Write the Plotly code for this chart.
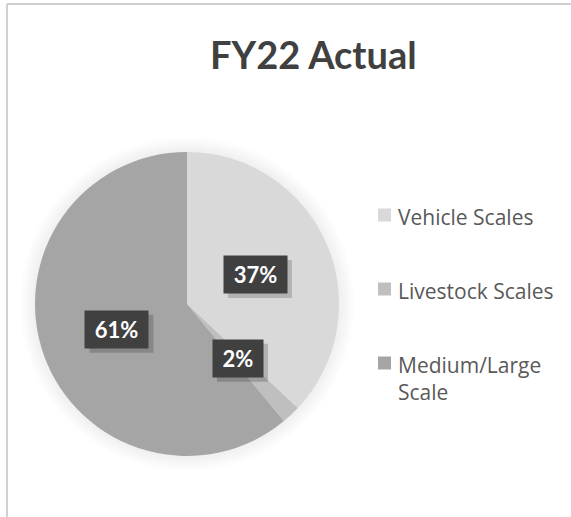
import math
import plotly.graph_objects as go

# Chart data
title_text = "FY22 Actual"
categories = ["Vehicle Scales", "Livestock Scales", "Medium/Large Scale"]
shares = [37, 2, 61]
slice_colors = ["#d9d9d9", "#bfbfbf", "#a5a5a5"]

W, H = 571, 517
CX, CY, R = 187, 304, 152          # pie centre and radius in pixels
LABEL_FRAC = 0.49                   # data labels sit at this fraction of the radius


def px(x):
    return x / W


def py(y):
    return 1 - y / H


fig = go.Figure()

fig.add_trace(go.Pie(
    labels=categories,
    values=shares,
    marker=dict(colors=slice_colors, line=dict(width=0)),
    sort=False,
    direction="clockwise",
    rotation=0,
    textinfo="none",
    hoverinfo="label+percent",
    showlegend=False,
    domain=dict(x=[px(CX - R), px(CX + R)], y=[py(CY + R), py(CY - R)]),
))

shapes = []
annotations = []

# soft glow around the pie, built from many faint stacked discs
for grow in range(16, 0, -1):
    shapes.append(dict(
        type="circle", xref="paper", yref="paper", layer="below",
        x0=px(CX - R - grow), x1=px(CX + R + grow),
        y0=py(CY + R + grow), y1=py(CY - R - grow),
        fillcolor="rgba(0,0,0,0.005)", line=dict(width=0),
    ))

# chart frame (top and left edges)
shapes.append(dict(type="line", xref="paper", yref="paper",
                   x0=px(7), x1=1.0, y0=py(4), y1=py(4),
                   line=dict(color="#d0d0d0", width=2)))
shapes.append(dict(type="line", xref="paper", yref="paper",
                   x0=px(7), x1=px(7), y0=py(4), y1=0.0,
                   line=dict(color="#d0d0d0", width=2)))

# data labels in dark boxes at each slice's mid-angle
total = sum(shares)
cum = 0
for val in shares:
    mid = (cum + val / 2) / total * 2 * math.pi
    cum += val
    lx = CX + LABEL_FRAC * R * math.sin(mid)
    ly = CY - LABEL_FRAC * R * math.cos(mid)
    text = f"{round(val / total * 100)}%"
    bw = 63 if len(text) > 2 else 50
    bh = 37
    # drop shadow
    shapes.append(dict(
        type="rect", xref="paper", yref="paper", layer="above",
        x0=px(lx - bw / 2 + 4), x1=px(lx + bw / 2 + 5),
        y0=py(ly + bh / 2 + 5), y1=py(ly - bh / 2 + 4),
        fillcolor="rgba(0,0,0,0.18)", line=dict(width=0),
    ))
    annotations.append(dict(
        x=px(lx), y=py(ly), xref="paper", yref="paper",
        text=f"<b>{text}</b>", showarrow=False,
        font=dict(family="Lato", size=22, color="white"),
        bgcolor="#404040", width=bw - 6, height=bh - 6, borderpad=3,
        xanchor="center", yanchor="middle",
    ))

# title
annotations.append(dict(
    x=px(313), y=py(54), xref="paper", yref="paper",
    text=f"<b>{title_text}</b>", showarrow=False,
    font=dict(family="Lato", size=38, color="#404040"),
    xanchor="center", yanchor="middle",
))

# legend
legend_rows = [215, 289, 363]
for name, color, ry in zip(categories, slice_colors, legend_rows):
    shapes.append(dict(
        type="rect", xref="paper", yref="paper",
        x0=px(378), x1=px(391), y0=py(ry + 6.5), y1=py(ry - 6.5),
        fillcolor=color, line=dict(width=0),
    ))
    words = name.split(" ")
    label = name if len(name) <= 16 else " ".join(words[:-1]) + "<br>" + words[-1]
    annotations.append(dict(
        x=px(396), y=py(ry - 14), xref="paper", yref="paper",
        text=label, showarrow=False, align="left",
        font=dict(family="Open Sans", size=21, color="#595959"),
        xanchor="left", yanchor="top",
    ))

fig.update_layout(
    width=W, height=H,
    margin=dict(l=0, r=0, t=0, b=0),
    paper_bgcolor="white", plot_bgcolor="white",
    shapes=shapes, annotations=annotations,
)

fig.write_html("out.html")
